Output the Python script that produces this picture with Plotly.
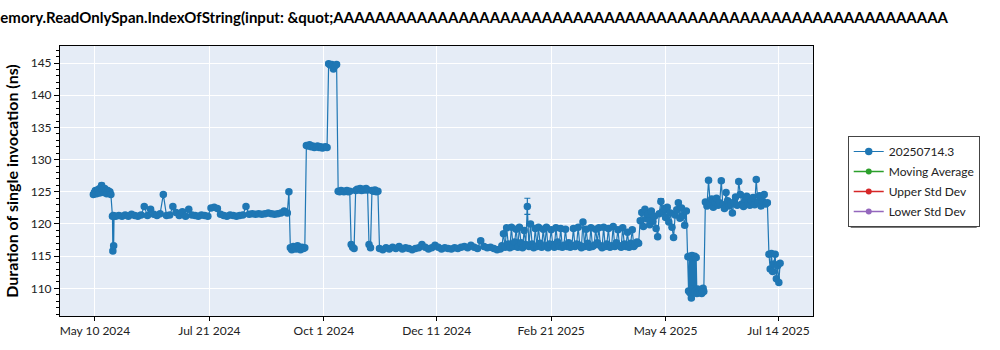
import numpy as np
import pandas as pd
import plotly.graph_objects as go

# ---------------- data ----------------
series_name = "20250714.3"
other_names = ["Moving Average", "Upper Std Dev", "Lower Std Dev"]
other_colors = ["#2ca02c", "#d62728", "#9467bd"]

title_text = "System.Memory.ReadOnlySpan.IndexOfString(input: &amp;quot;" + "A" * 59
y_title = "Duration of single invocation (ns)"

tick_dates = ["2024-05-10", "2024-07-21", "2024-10-01", "2024-12-11",
              "2025-02-21", "2025-05-04", "2025-07-14"]
tick_labels = ["May 10 2024", "Jul 21 2024", "Oct 1 2024", "Dec 11 2024",
               "Feb 21 2025", "May 4 2025", "Jul 14 2025"]

# each segment: start date, end date, values spread evenly in between
seg_a = ("2024-05-09", "2024-05-20")
vals_a = [124.6, 124.9, 125.2, 124.7, 125.0, 125.4, 124.8, 125.6, 126.0, 125.3,
          124.9, 125.5, 125.1, 124.7, 125.2, 124.9, 125.0, 124.6]
seg_b = ("2024-05-21", "2024-05-22")
vals_b = [121.2, 115.8, 121.3, 116.6, 121.2]
seg_c = ("2024-05-23", "2024-09-08")
vals_c = [121.2, 121.3, 121.2, 121.4, 121.2, 121.5, 121.3, 121.2, 121.4, 122.7,
          121.3, 122.3, 121.5, 121.3, 121.6, 124.6, 121.3, 121.4, 122.7, 121.8,
          121.3, 121.9, 121.2, 122.3, 121.4, 121.3, 121.2, 121.4, 121.3, 121.2,
          122.5, 122.6, 122.4, 121.5, 121.3, 121.2, 121.4, 121.3, 121.2, 121.3,
          121.4, 122.7, 121.5, 121.6, 121.5, 121.6, 121.5, 121.6, 121.7, 121.6,
          121.5, 121.6, 121.7, 122.0, 121.7]
seg_d = ("2024-09-09", "2024-09-19")
vals_d = [125.0, 116.3, 116.0, 116.5, 116.2, 116.1, 116.6, 116.3, 116.0, 116.4,
          116.2, 116.3]
seg_e = ("2024-09-20", "2024-10-03")
vals_e = [132.2, 132.1, 132.3, 132.0, 132.1, 131.9, 132.0, 132.1, 131.9, 132.0,
          131.8, 131.9, 132.0, 131.9]
seg_f = ("2024-10-04", "2024-10-09")
vals_f = [144.9, 144.7, 144.8, 144.1, 144.6, 144.8]
seg_g = ("2024-10-10", "2024-10-20")
vals_g = [125.1, 125.0, 125.2, 125.1, 125.0, 125.1, 125.2, 125.0, 125.1, 116.8,
          116.4, 116.2]
seg_h = ("2024-10-21", "2024-11-04")
vals_h = [125.2, 125.4, 125.3, 125.5, 125.2, 125.4, 125.3, 125.5, 125.3, 116.8,
          116.3, 125.2, 125.1, 125.3, 125.0, 125.1]
seg_i = ("2024-11-05", "2025-01-20")
vals_i = [116.2, 116.0, 116.3, 116.1, 116.4, 116.2, 116.5, 116.1, 116.3, 116.2,
          116.0, 116.2, 116.3, 116.8, 116.4, 116.1, 116.3, 116.7, 116.4, 116.1,
          116.3, 116.2, 116.1, 116.3, 116.2, 116.4, 116.5, 116.3, 116.7, 116.4,
          116.2, 117.4, 116.5, 116.3, 116.4, 116.2, 116.0, 116.1]
seg_j = ("2025-01-21", "2025-04-17")
vals_j = [116.6, 118.5, 116.4, 119.4, 116.9, 116.3, 119.5, 116.5, 117.2, 119.2,
          116.4,
          119.5, 117.1, 116.3, 119.0, 116.8, 122.7, 116.5, 120.0, 116.9, 116.3,
          119.3, 116.5, 119.5, 117.0, 116.4, 119.2, 116.6, 119.5, 116.3, 116.9,
          119.1, 116.8, 116.4, 119.4, 117.2, 116.5, 119.3, 116.4,
          116.7, 119.2, 116.5, 117.1, 116.4, 116.6, 119.3, 116.5, 116.9, 119.5,
          116.7, 116.3, 120.3, 116.5, 119.2, 117.0, 116.4, 119.4, 116.5, 116.7,
          119.2, 117.1, 119.4, 116.6, 116.3, 119.5, 116.5, 116.9, 119.3, 116.4,
          116.6,
          119.6, 116.5, 117.1, 119.1, 116.6, 116.4, 119.4, 116.9, 116.5, 118.7,
          116.4, 117.0, 119.1, 116.5, 116.8, 117.2, 117.0]
seg_k = ("2025-04-18", "2025-05-17")
vals_k = [120.5, 121.8, 119.6, 122.3, 120.8, 121.5, 119.9, 122.0, 120.4, 121.2,
          119.3, 118.0, 121.6, 123.5, 121.9, 122.4, 121.0, 122.6, 120.3, 121.7,
          119.5, 117.9, 121.4, 122.2, 123.3, 120.9, 122.5, 121.3, 119.8, 122.0]
seg_l = ("2025-05-18", "2025-05-28")
vals_l = [114.9, 109.6, 115.0, 109.3, 114.8, 108.5, 115.1, 109.8, 114.9, 109.4,
          115.0, 109.6, 114.8, 109.2, 109.9, 109.5, 109.3, 109.7, 109.4, 109.8,
          109.2, 109.6, 110.0, 109.5]
seg_m = ("2025-05-29", "2025-07-07")
vals_m = [123.4, 122.8, 126.8, 123.2, 123.9, 122.6, 123.4, 124.0, 122.9, 123.3,
          126.7, 123.0, 122.4, 124.9, 123.6, 122.8, 123.1, 121.7, 123.4, 124.2,
          122.9, 126.6, 124.6, 123.1, 122.7, 123.9, 124.3, 123.2, 122.9, 123.6,
          124.1, 123.0, 126.9, 123.4, 124.4, 122.8, 123.5, 124.6, 123.1, 123.3]
seg_n = ("2025-07-08", "2025-07-15")
vals_n = [115.3, 113.0, 115.4, 112.6, 113.8, 115.3, 111.5, 113.5, 110.9, 113.9]

# error bars: small everywhere, larger on a few points (segment, index): (+, -)
err_default = 0.25
err_special = {("a", 8): (0.35, 0.3), ("j", 16): (1.3, 1.2), ("k", 13): (0.45, 0.3)}

segments = [("a", seg_a, vals_a), ("b", seg_b, vals_b), ("c", seg_c, vals_c),
            ("d", seg_d, vals_d), ("e", seg_e, vals_e), ("f", seg_f, vals_f),
            ("g", seg_g, vals_g), ("h", seg_h, vals_h), ("i", seg_i, vals_i),
            ("j", seg_j, vals_j), ("k", seg_k, vals_k), ("l", seg_l, vals_l),
            ("m", seg_m, vals_m), ("n", seg_n, vals_n)]

xs, ys, ep, em = [], [], [], []
for key, (d0, d1), vals in segments:
    t0 = pd.Timestamp(d0).value
    t1 = pd.Timestamp(d1).value
    stamps = pd.to_datetime(np.linspace(t0, t1, len(vals)).astype("int64"))
    for idx, (t, v) in enumerate(zip(stamps, vals)):
        xs.append(t)
        ys.append(v)
        p, m = err_special.get((key, idx), (err_default, err_default))
        ep.append(p)
        em.append(m)

# ---------------- figure ----------------
FONT = "Segoe UI, Lato, sans-serif"
blue = "#1f77b4"

fig = go.Figure()
fig.add_trace(go.Scatter(
    x=xs, y=ys, mode="lines+markers", name=series_name, legendgroup="g0",
    line=dict(color=blue, width=1.2),
    marker=dict(color=blue, size=7.5),
    error_y=dict(type="data", array=ep, arrayminus=em, symmetric=False,
                 color=blue, thickness=1.2, width=3),
))
for i, (nm, col) in enumerate(zip(other_names, other_colors)):
    fig.add_trace(go.Scatter(
        x=[None], y=[None], mode="lines+markers", name=nm, legendgroup=f"g{i+1}",
        line=dict(color=col, width=1.3), marker=dict(color=col, size=6),
    ))

# legend drop shadow (paper coordinates, outside the plot area)
PL, PR, PT, PB = 54, 813, 46, 319
def px_x(v):
    return (v - PL) / (PR - PL)
def px_y(v):
    return (PB - v) / (PB - PT)

fig.add_shape(type="rect", xref="paper", yref="paper",
              x0=px_x(851), x1=px_x(978), y0=px_y(230), y1=px_y(140),
              fillcolor="#7a7a7a", line=dict(width=0), layer="below")

fig.update_layout(
    width=1000, height=350,
    margin=dict(l=PL, r=1000 - PR, t=PT, b=350 - PB),
    paper_bgcolor="white", plot_bgcolor="#E5ECF6",
    font=dict(family=FONT, size=12, color="#222"),
    title=dict(text=title_text, xref="container", x=0.948, xanchor="right",
               yref="container", y=1 - 18 / 350, yanchor="middle",
               font=dict(family=FONT, size=15, color="black", weight="bold")),
    showlegend=True,
    legend=dict(x=px_x(848), y=px_y(137), xanchor="left", yanchor="top",
                bgcolor="white", bordercolor="#444", borderwidth=1,
                font=dict(family=FONT, size=12, color="#222"),
                tracegroupgap=1, traceorder="grouped"),
    xaxis=dict(type="date", range=["2024-04-18", "2025-08-04 17:00"],
               tickvals=tick_dates, ticktext=tick_labels,
               showgrid=True, gridcolor="white", gridwidth=1,
               showline=True, linecolor="black", linewidth=1, mirror=True,
               ticks="outside", ticklen=4, tickcolor="black",
               zeroline=False, tickfont=dict(size=12, color="#222")),
    yaxis=dict(range=[105.7, 147.66], tick0=0, dtick=5,
               showgrid=True, gridcolor="white", gridwidth=1,
               showline=True, linecolor="black", linewidth=1, mirror=True,
               ticks="outside", ticklen=5, tickcolor="black",
               minor=dict(dtick=1, ticks="outside", ticklen=3, tickcolor="black", showgrid=False),
               zeroline=False, tickfont=dict(size=12, color="#222"),
               title=dict(text=y_title, standoff=8,
                          font=dict(family=FONT, size=16, color="black", weight="bold"))),
)

fig.write_html("out.html")
